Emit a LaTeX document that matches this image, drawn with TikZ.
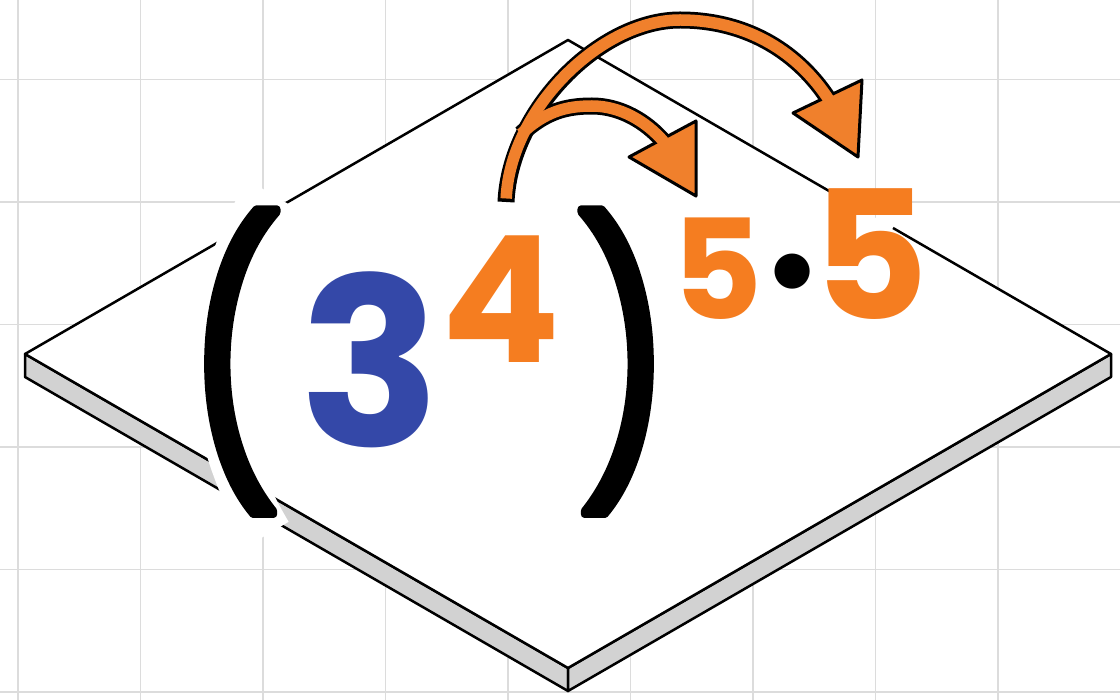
\documentclass[tikz,border=0pt]{standalone}
\usepackage{fontspec}
\newfontfamily\pop{Poppins}
\newfontfamily\popfb[FakeBold=3]{Poppins}
\newfontfamily\djv{DejaVu Sans}
\usepackage{graphicx}
\definecolor{gridc}{HTML}{DCDCDC}
\definecolor{sidec}{HTML}{D2D2D2}
\definecolor{blueN}{HTML}{3448A8}
\definecolor{orT}{HTML}{F57D20}
\definecolor{orA}{HTML}{F0802C}
\tikzset{
  gridline/.style={gridc, line width=1.5},
  slabline/.style={black, line width=2.5},
  sideface/.style={fill=sidec, draw=black, line width=2.5},
  digit/.style={anchor=base, inner sep=0pt},
  paren/.style={anchor=south, inner sep=0pt},
  arcout/.style={black, line width=17},
  arcin/.style={orA, line width=11.5},
  arrowhd/.style={fill=orA, draw=black, line width=3, line join=round},
}
\def\bigarc{(506,202) .. controls (510,110) and (600,20) .. (680,20) .. controls (750,20) and (800,55) .. (829,100)}
\def\bigarcO{(506.2,198.5) .. controls (510,110) and (600,20) .. (680,20) .. controls (750,20) and (800,55) .. (829,100)}
\def\smallarc{(521,134) .. controls (545,112) and (565,106) .. (592,106) .. controls (620,106) and (646,121) .. (664,142)}
\begin{document}
\begin{tikzpicture}[x=1pt,y=-1pt,line join=round]
\useasboundingbox (0,0) rectangle (1120,700);
\fill[white] (0,0) rectangle (1120,700);
% grid
\foreach \gx in {18,140.5,...,1120} \draw[gridline] (\gx,0) -- (\gx,700);
\foreach \gy in {79.5,202,...,700} \draw[gridline] (0,\gy) -- (1120,\gy);
% slab
\coordinate (L) at (25,354);
\coordinate (T) at (568,40);
\coordinate (R) at (1111,354);
\coordinate (B) at (568,668);
\coordinate (Ld) at (25,377);
\coordinate (Bd) at (568,691);
\coordinate (Rd) at (1111,377);
\coordinate (c1) at (832,192.7);
\coordinate (c2) at (893,228);
\filldraw[sideface] (L) -- (B) -- (Bd) -- (Ld) -- cycle;
\filldraw[sideface] (B) -- (R) -- (Rd) -- (Bd) -- cycle;
\fill[white] (L) -- (T) -- (R) -- (B) -- cycle;
\draw[slabline] (B) -- (L) -- (T) -- (c1);
\draw[slabline] (c2) -- (R) -- (B);
% halo behind left paren
\draw[white, line width=48] (268,192) .. controls (200,306) and (200,420) .. (268,534);
% parentheses
\node[paren] (lp) at (234,514) {\scalebox{0.82}[1]{\resizebox*{!}{304pt}{\popfb (}}};
\node[paren] (rp) at (624,514) {\scalebox{0.82}[1]{\resizebox*{!}{304pt}{\popfb )}}};
% digits
\node[digit, text=blueN, font=\pop\bfseries\fontsize{234}{234}\selectfont] (three) at (370,447) {3};
\node[digit, text=orT, font=\pop\bfseries\fontsize{176}{176}\selectfont] (four) at (501,363) {4};
\node[digit, text=orT, font=\pop\bfseries\fontsize{139}{139}\selectfont] (fiveA) at (718,320) {5};
\node[anchor=north, inner sep=0pt, text=black, font=\djv\fontsize{46}{46}\selectfont] (dot) at (793,254) {●};
\node[digit, text=orT, font=\pop\bfseries\fontsize{179}{179}\selectfont] (fiveB) at (871,320) {5};
% arrows
\draw[arcout] \bigarc;
\draw[arcout] \smallarc;
\filldraw[arrowhd] (793,113) -- (862,80) -- (858,157) -- cycle;
\filldraw[arrowhd] (629,157) -- (696,121) -- (696,196) -- cycle;
\draw[arcin] \bigarcO;
\draw[arcin] \smallarc;
\end{tikzpicture}
\end{document}
